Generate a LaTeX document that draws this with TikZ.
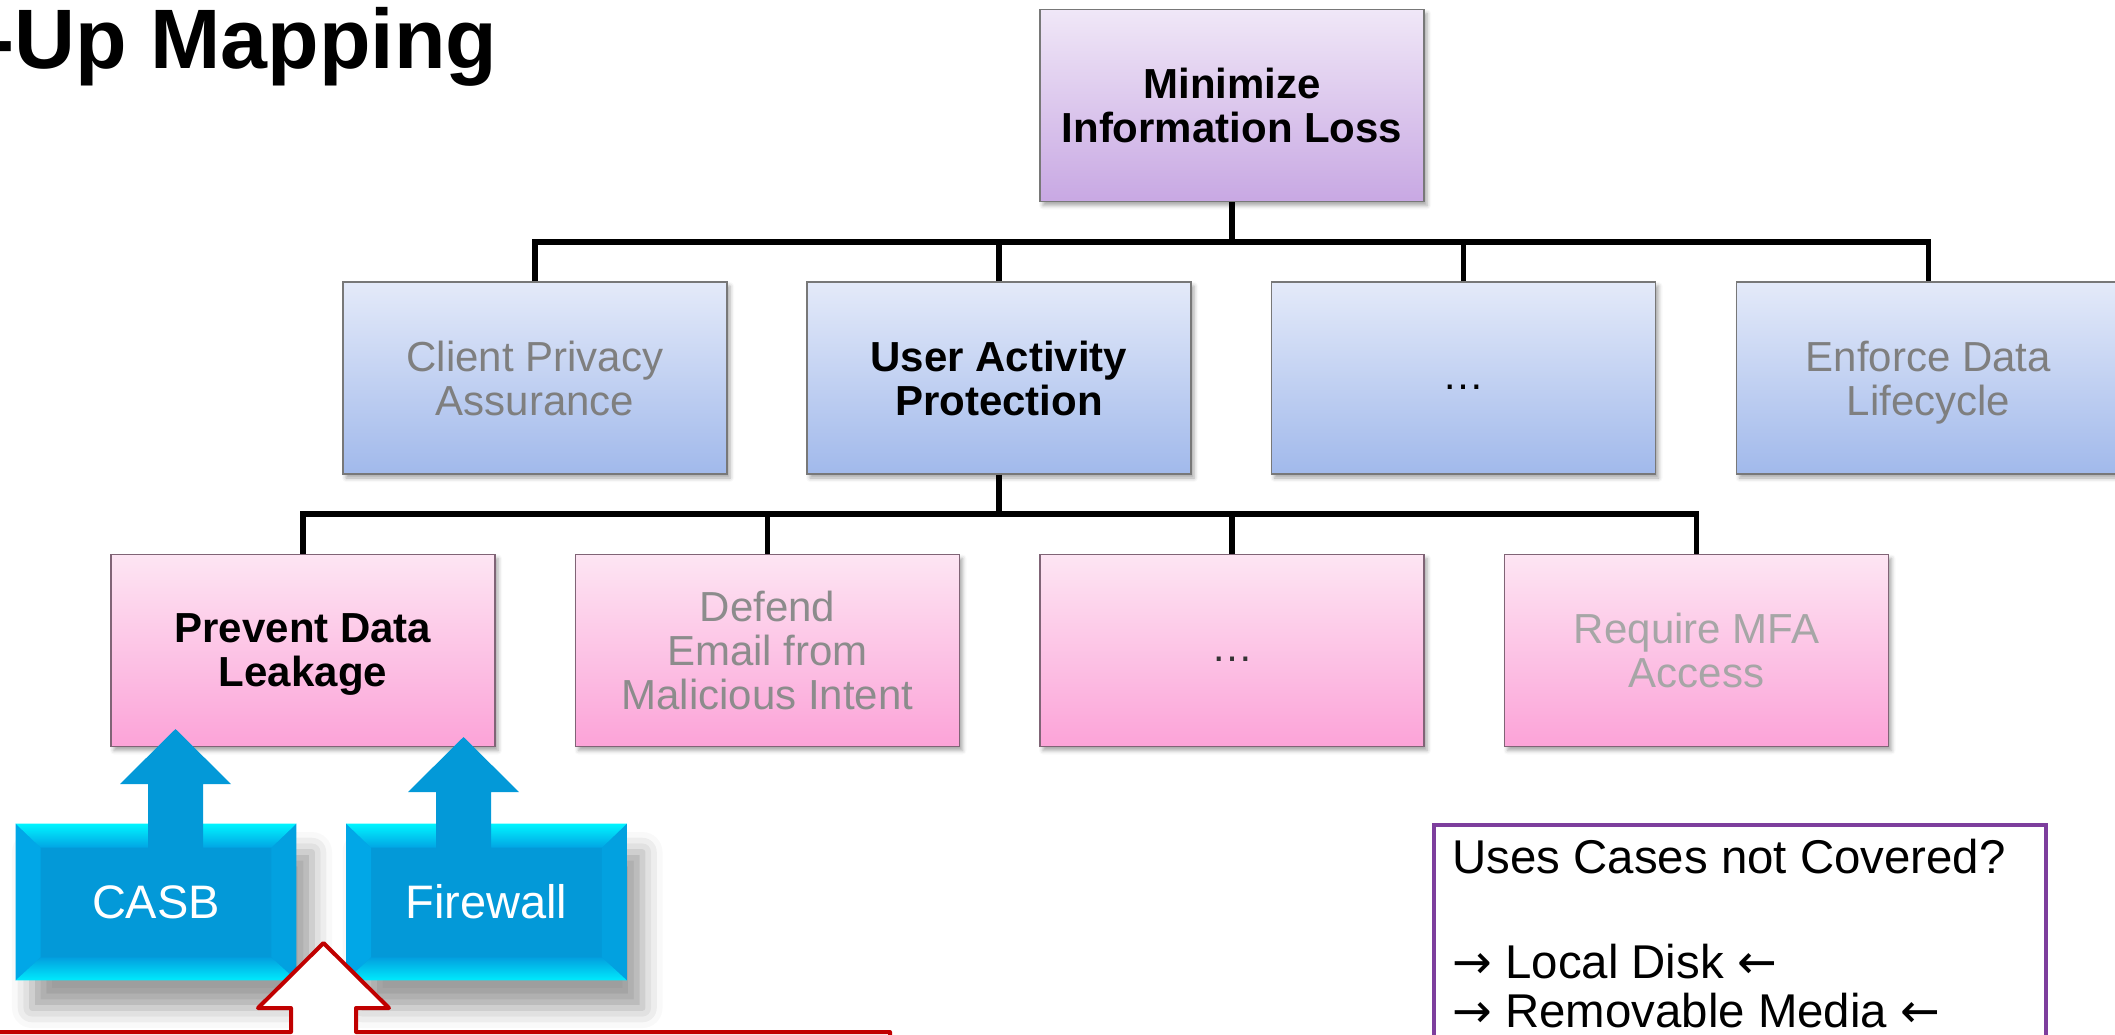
\documentclass[tikz,border=0pt]{standalone}
\usepackage{fontspec}
\setmainfont{Liberation Sans}
\newfontfamily\arrowfont{DejaVu Sans}
\usetikzlibrary{calc,shadows.blur}

\definecolor{goalTop}{RGB}{240,231,247}
\definecolor{goalBot}{RGB}{200,168,227}
\definecolor{subTop}{RGB}{228,234,249}
\definecolor{subBot}{RGB}{161,185,235}
\definecolor{leafTop}{RGB}{253,229,243}
\definecolor{leafBot}{RGB}{252,163,216}
\definecolor{leafLine}{RGB}{128,100,118}
\definecolor{cardLine}{RGB}{120,120,120}
\definecolor{techFace}{RGB}{3,153,216}
\definecolor{techEdge}{RGB}{0,176,240}
\definecolor{techGlow}{RGB}{0,245,255}
\definecolor{calloutRed}{RGB}{192,0,0}
\definecolor{notePurple}{RGB}{125,62,157}
\definecolor{dimText}{RGB}{127,127,127}
\definecolor{dimmerText}{RGB}{140,140,140}
\definecolor{faintText}{RGB}{166,166,166}

% bevelled frame around a technology block
\newcommand\techbevels[1]{%
  \fill[techEdge!60!techFace] (#1.north west) -- ($(#1.north west)+(25,24)$) -- ($(#1.south west)+(25,-23)$) -- (#1.south west) -- cycle;
  \fill[techEdge!35!techFace] (#1.north east) -- ($(#1.north east)+(-25,24)$) -- ($(#1.south east)+(-25,-23)$) -- (#1.south east) -- cycle;
  \shade[top color=techGlow, bottom color=techEdge!50!techFace] (#1.north west) -- (#1.north east) -- ($(#1.north east)+(-25,24)$) -- ($(#1.north west)+(25,24)$) -- cycle;
  \shade[top color=techEdge!30!techFace, bottom color=techGlow!85!techEdge] ($(#1.south west)+(25,-23)$) -- ($(#1.south east)+(-25,-23)$) -- (#1.south east) -- (#1.south west) -- cycle;
}
% broad upward arrow from a foot point to a tip point
\newcommand\liftarrow[2]{%
  \fill[techFace] let \p1=(#1), \p2=(#2) in
    (\x1-13.75pt,\y1) -- (\x1-13.75pt,\y2-27.5pt) -- (\x1-27.75pt,\y2-27.5pt) -- (\x1,\y2)
    -- (\x1+27.75pt,\y2-27.5pt) -- (\x1+13.75pt,\y2-27.5pt) -- (\x1+13.75pt,\y1) -- cycle;
}
\newcommand\rarr{{\arrowfont →}}
\newcommand\larr{{\arrowfont ←}}

\begin{document}
\begin{tikzpicture}[x=0.5pt,y=-0.5pt,
  card/.style={rectangle, minimum width=192pt, minimum height=96pt, inner sep=0pt,
    align=center, draw=cardLine, line width=0.6pt, text depth=0pt,
    font=\fontsize{21}{22}\selectfont,
    blur shadow={shadow xshift=1.5pt, shadow yshift=-2pt, shadow blur radius=2pt, shadow opacity=35}},
  strong/.style={font=\fontsize{21}{22}\selectfont\bfseries},
  dots/.style={text height=11pt},
  goal/.style={card, top color=goalTop, bottom color=goalBot},
  sub/.style={card, top color=subTop, bottom color=subBot},
  leaf/.style={card, top color=leafTop, bottom color=leafBot, draw=leafLine},
  conn/.style={line width=2.8pt, black},
  tech/.style={rectangle, minimum width=140pt, minimum height=78pt, inner sep=0pt,
    fill=techFace,
    blur shadow={shadow xshift=8pt, shadow yshift=-14pt, shadow blur radius=10pt, shadow opacity=38}},
  techlabel/.style={text=white, font=\fontsize{23.5}{26}\selectfont},
  notetext/.style={anchor=base west, inner sep=0pt, font=\fontsize{23.7}{26}\selectfont},
]
\useasboundingbox (0,0) rectangle (2115,1034);
\clip (0,0) rectangle (2115,1034);

% heading
\node[anchor=base west, inner sep=0pt, font=\fontsize{42.2}{48}\selectfont\bfseries] (title) at (-14,68) {-Up Mapping};

% goal tree
\node[goal, strong] (goal) at (1232,105.5) {Minimize\\Information Loss};

\node[sub, text=dimText] (cpa) at (535,378) {Client Privacy\\Assurance};
\node[sub, strong] (uap) at (999,378) {User Activity\\Protection};
\node[sub, dots] (more2) at (1463.5,378) {…};
\node[sub, text=dimText] (edl) at (1928.5,378) {Enforce Data\\Lifecycle};

\node[leaf, strong] (pdl) at (303,650.5) {Prevent Data\\Leakage};
\node[leaf, text=dimmerText] (dem) at (767.5,650.5) {Defend\\Email from\\Malicious Intent};
\node[leaf, dots, text=black!80] (more3) at (1232,650.5) {…};
\node[leaf, text=faintText] (mfa) at (1696.5,650.5) {Require MFA\\Access};

\coordinate (bus1) at (1232,242);
\coordinate (bus2) at (999,514);

\draw[conn] (goal.south) -- (goal.south |- bus1);
\draw[conn] (cpa.north) |- (edl.north |- bus1) -- (edl.north);
\draw[conn] (uap.north) -- (uap.north |- bus1);
\draw[conn] (more2.north) -- (more2.north |- bus1);

\draw[conn] (uap.south) -- (uap.south |- bus2);
\draw[conn] (pdl.north) |- (mfa.north |- bus2) -- (mfa.north);
\draw[conn] (dem.north) -- (dem.north |- bus2);
\draw[conn] (more3.north) -- (more3.north |- bus2);

% technology blocks feeding the leaf
\node[tech] (casb) at (156,902) {};
\node[tech] (fw) at (486.5,902) {};
\techbevels{casb}
\techbevels{fw}

\coordinate (casbFoot) at ($(casb.north)+(19.5,26)$);
\coordinate (casbTip) at (175.5,729);
\coordinate (fwFoot) at ($(fw.north)+(-23,26)$);
\coordinate (fwTip) at (463.5,737);
\liftarrow{casbFoot}{casbTip}
\liftarrow{fwFoot}{fwTip}

\node[techlabel] (casbname) at (casb.center) {CASB};
\node[techlabel] (fwname) at (fw.center) {Firewall};

% callout below the blocks
\draw[calloutRed, line width=2pt, fill=white, line join=round]
  (-10,1032) -- (291,1032) -- (291,1008) -- (258,1008) -- (323.5,943) -- (389,1008)
  -- (356,1008) -- (356,1032) -- (890,1032) -- (890,1090) -- (-10,1090) -- cycle;

% open questions
\node[draw=notePurple, line width=2pt, fill=white, anchor=north west,
  minimum width=306pt, minimum height=135pt, inner sep=0pt] (note) at (1432,823) {};
\node[notetext] (q1) at (1452,873) {Uses Cases not Covered?};
\node[notetext] (q2) at (1452,978) {\rarr{} Local Disk \larr};
\node[notetext] (q3) at (1452,1027) {\rarr{} Removable Media \larr};
\end{tikzpicture}
\end{document}
